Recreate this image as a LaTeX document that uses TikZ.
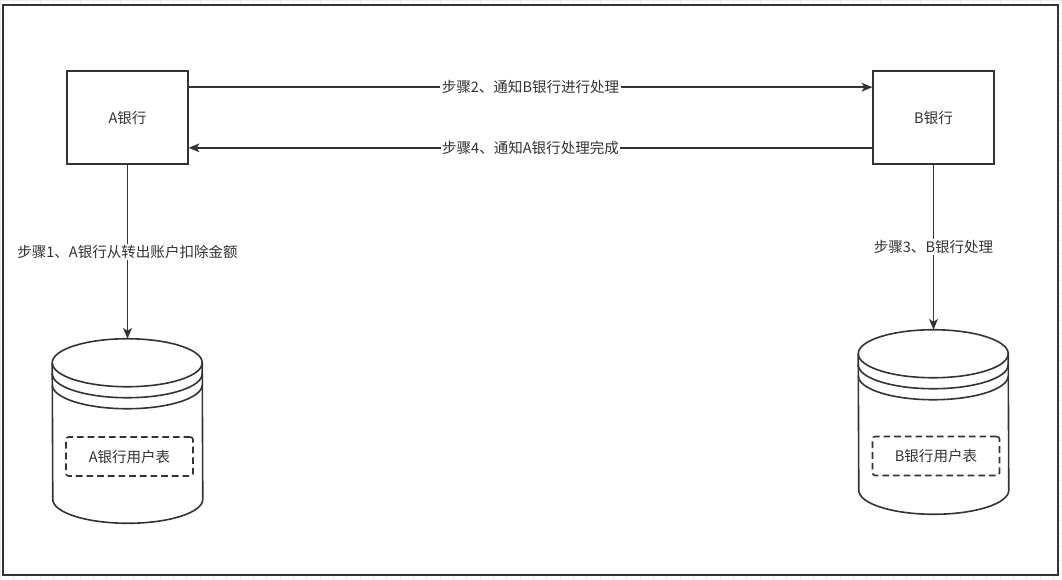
\documentclass[tikz,border=0pt]{standalone}
\usepackage{fontspec}
\setmainfont{Noto Sans CJK SC}
\usepackage{tikz}
\usetikzlibrary{arrows.meta}

\definecolor{ink}{HTML}{333333}
\definecolor{gridgray}{HTML}{EBEBEB}

% datastore outline round a named node
\newcommand{\drawstore}[1]{%
  \draw[storeline, fill=white] ([yshift=-18pt]#1.north west)
    arc[start angle=180, end angle=0, x radius=56.25pt, y radius=18pt]
    -- ([yshift=18pt]#1.south east)
    arc[start angle=0, end angle=-180, x radius=56.25pt, y radius=18pt] -- cycle;
  \foreach \d in {0,8.25,16.5}
    \draw[storeline] ([yshift={-(18+\d)*1pt}]#1.north west)
      arc[start angle=180, end angle=360, x radius=56.25pt, y radius=18pt];
}

\begin{document}
\begin{tikzpicture}[x=0.75pt, y=-0.75pt,
    bank/.style={rectangle, draw=ink, line width=1.2pt, minimum width=90.5pt, minimum height=69.75pt, text=ink, font=\fontsize{10.9}{13}\selectfont},
    store/.style={rectangle, inner sep=0pt, minimum width=112.5pt, minimum height=138pt},
    storeline/.style={draw=ink, line width=1.2pt},
    usertable/.style={rectangle, draw=ink, line width=1.2pt, dash pattern=on 5pt off 3pt, rounded corners=2pt, minimum width=95.25pt, minimum height=29.25pt, text=ink, font=\fontsize{10.9}{13}\selectfont},
    flow/.style={draw=ink, line width=1.2pt, -{Stealth[length=8pt, width=6.5pt, inset=2pt]}},
    tag/.style={fill=white, inner sep=1pt, text=ink, font=\fontsize{10.9}{13}\selectfont}]
    \useasboundingbox (0,0) rectangle (1062,579);

    % Background grid and frame
    \draw[gridgray, line width=0.5pt, step=10pt] (0,0) grid (1062,579);
    \draw[draw=ink, line width=1.5pt, fill=white] (3,5) rectangle (1058,575);

    % Banks
    \node[bank] (abank) at (127.5,117.5) {A银行};
    \node[bank] (bbank) at (933.5,117.5) {B银行};

    % A user table
    \node[store] (adb) at (127.5,431) {};
    \drawstore{adb}
    \node[usertable] (atable) at (129.5,456.5) {A银行用户表};

    % B user table
    \node[store] (bdb) at (933.5,422) {};
    \drawstore{bdb}
    \node[usertable] (btable) at (936,456) {B银行用户表};

    % Arrows
    \draw[flow] ([yshift=-12.75pt]abank.north east) -- node[tag] {步骤2、通知B银行进行处理} ([yshift=-12.75pt]bbank.north west);
    \draw[flow] ([yshift=12.75pt]bbank.south west) -- node[tag] {步骤4、通知A银行处理完成} ([yshift=12.75pt]abank.south east);
    \draw[flow] (abank) -- node[tag] {步骤1、A银行从转出账户扣除金额} (adb);
    \draw[flow] (bbank) -- node[tag] {步骤3、B银行处理} (bdb);
\end{tikzpicture}
\end{document}
